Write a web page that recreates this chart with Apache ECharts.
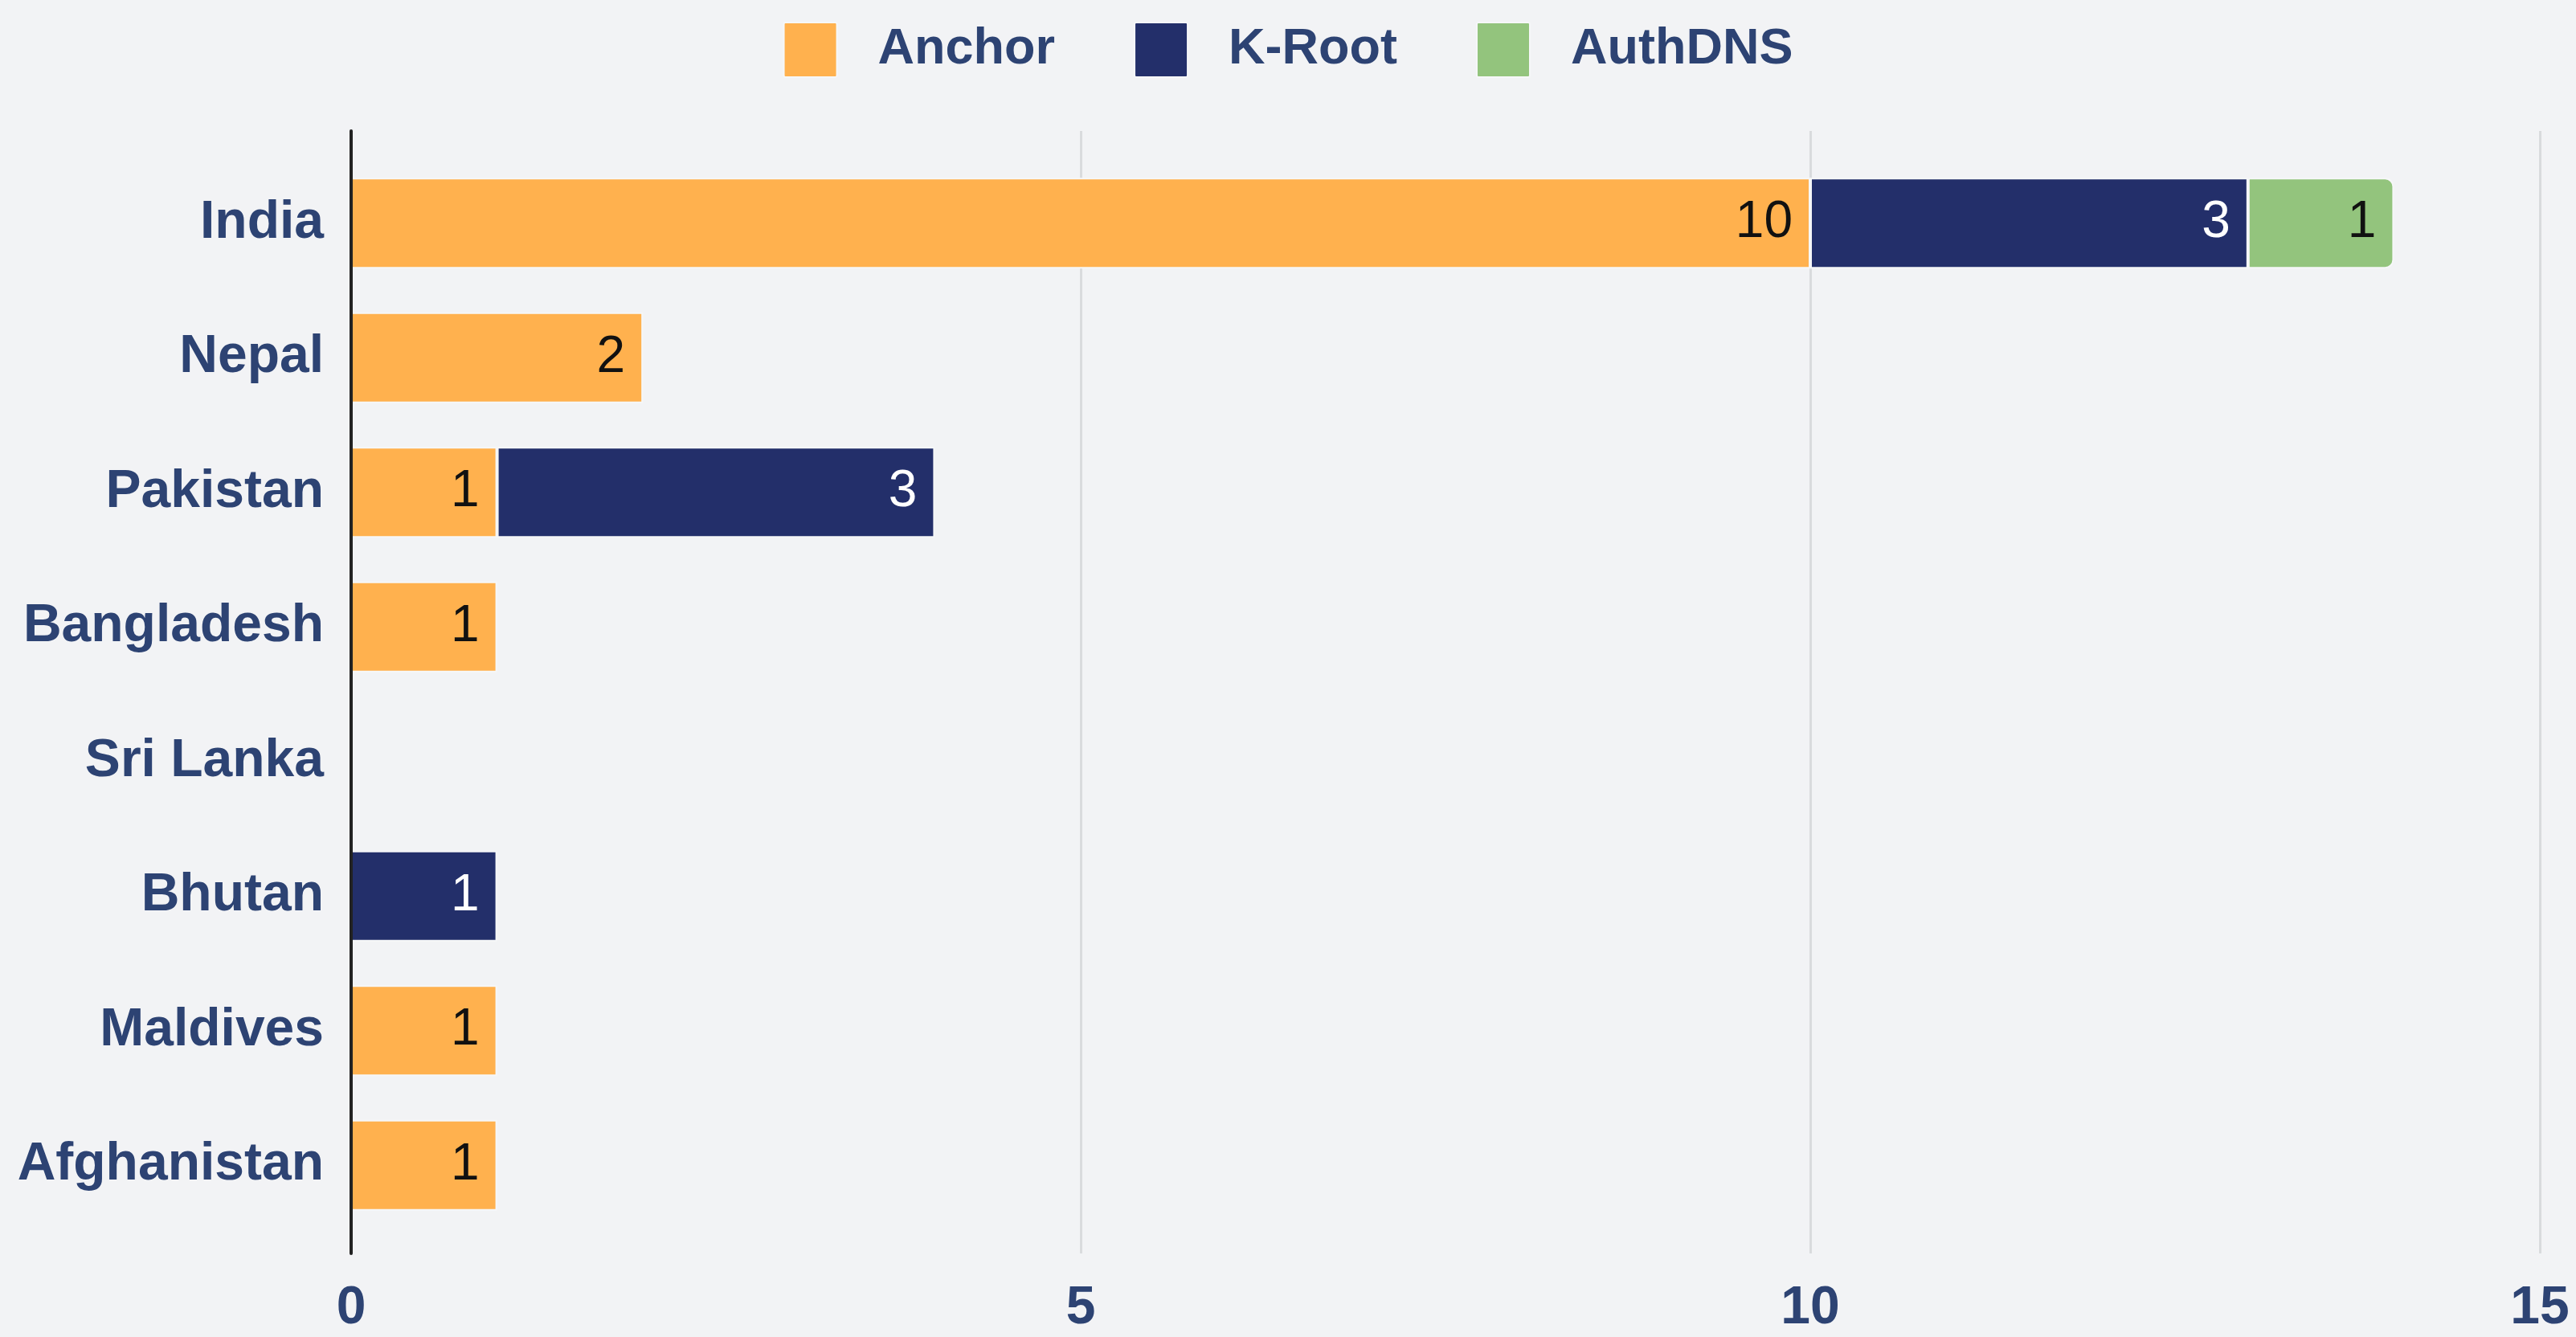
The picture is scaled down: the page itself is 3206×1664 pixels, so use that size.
<!DOCTYPE html>
<html>
<head>
<meta charset="utf-8">
<script src="https://cdn.jsdelivr.net/npm/echarts@6/dist/echarts.min.js"></script>
<style>
  html, body { margin: 0; padding: 0; background: #F2F3F5; }
  #container { width: 3206px; height: 1664px; }
</style>
</head>
<body>
<div id="container"></div>
<script>
var countries = ['India', 'Nepal', 'Pakistan', 'Bangladesh', 'Sri Lanka', 'Bhutan', 'Maldives', 'Afghanistan'];
var anchor = [10, 2, 1, 1, 0, 0, 1, 1];
var kroot = [3, 0, 3, 0, 0, 1, 0, 0];
var authdns = [1, 0, 0, 0, 0, 0, 0, 0];
var xTicks = [0, 5, 10, 15];

var navy = '#2D4373';
var font = '"Liberation Sans", Arial, sans-serif';

function hideZero(arr) {
    return arr.map(function (v) { return v === 0 ? null : v; });
}

function barLabel(color) {
    return {
        show: true,
        position: 'insideRight',
        distance: 22,
        color: color,
        fontSize: 64,
        fontFamily: font,
        formatter: function (p) { return p.value ? p.value : ''; }
    };
}

var dom = document.getElementById('container');
var myChart = echarts.init(dom);

var option = {
    backgroundColor: '#F2F3F5',
    animation: false,
    color: ['#FFB14E', '#232F6A', '#93C47D'],
    legend: {
        top: 22,
        left: 'center',
        itemWidth: 66,
        itemHeight: 68,
        itemGap: 98,
        icon: 'path://M2,0 L64,0 Q66,0 66,2 L66,66 Q66,68 64,68 L2,68 Q0,68 0,66 L0,2 Q0,0 2,0 Z',
        textStyle: {
            color: navy,
            fontSize: 63,
            fontWeight: 'bold',
            fontFamily: font,
            padding: [0, 0, 0, 46]
        },
        data: ['Anchor', 'K-Root', 'AuthDNS']
    },
    grid: [
        // frame: axis line and grid lines
        {left: 437, right: 45, top: 163, bottom: 104},
        // bars
        {left: 437, right: 45, top: 194, bottom: 130}
    ],
    xAxis: [
        {
            gridIndex: 0,
            type: 'value',
            min: xTicks[0],
            max: xTicks[xTicks.length - 1],
            interval: 5,
            axisLine: {show: false},
            axisTick: {show: false},
            splitLine: {lineStyle: {color: '#D9DBDD', width: 3}},
            axisLabel: {
                color: navy,
                fontSize: 66,
                fontWeight: 'bold',
                fontFamily: font,
                margin: 36
            }
        },
        {
            gridIndex: 1,
            type: 'value',
            min: xTicks[0],
            max: xTicks[xTicks.length - 1],
            show: false
        }
    ],
    yAxis: [
        {
            gridIndex: 0,
            type: 'category',
            data: countries,
            inverse: true,
            axisLine: {show: true, lineStyle: {color: '#222', width: 4}},
            axisTick: {show: false},
            axisLabel: {show: false},
            splitLine: {show: false},
            z: 10
        },
        {
            gridIndex: 1,
            type: 'category',
            data: countries,
            inverse: true,
            axisLine: {show: false},
            axisTick: {show: false},
            axisLabel: {
                color: navy,
                fontSize: 66,
                fontWeight: 'bold',
                fontFamily: font,
                margin: 34
            }
        }
    ],
    series: [
        {
            name: 'Anchor',
            type: 'bar',
            stack: 'total',
            xAxisIndex: 1,
            yAxisIndex: 1,
            barWidth: 113,
            itemStyle: {borderColor: '#F6F7F8', borderWidth: 2},
            label: barLabel('#111'),
            data: hideZero(anchor)
        },
        {
            name: 'K-Root',
            type: 'bar',
            stack: 'total',
            xAxisIndex: 1,
            yAxisIndex: 1,
            barWidth: 113,
            itemStyle: {borderColor: '#F6F7F8', borderWidth: 2},
            label: barLabel('#fff'),
            data: hideZero(kroot)
        },
        {
            name: 'AuthDNS',
            type: 'bar',
            stack: 'total',
            xAxisIndex: 1,
            yAxisIndex: 1,
            barWidth: 113,
            itemStyle: {borderColor: '#F6F7F8', borderWidth: 2, borderRadius: [0, 10, 10, 0]},
            label: barLabel('#111'),
            data: hideZero(authdns)
        }
    ]
};

myChart.setOption(option, true);
</script>
</body>
</html>
